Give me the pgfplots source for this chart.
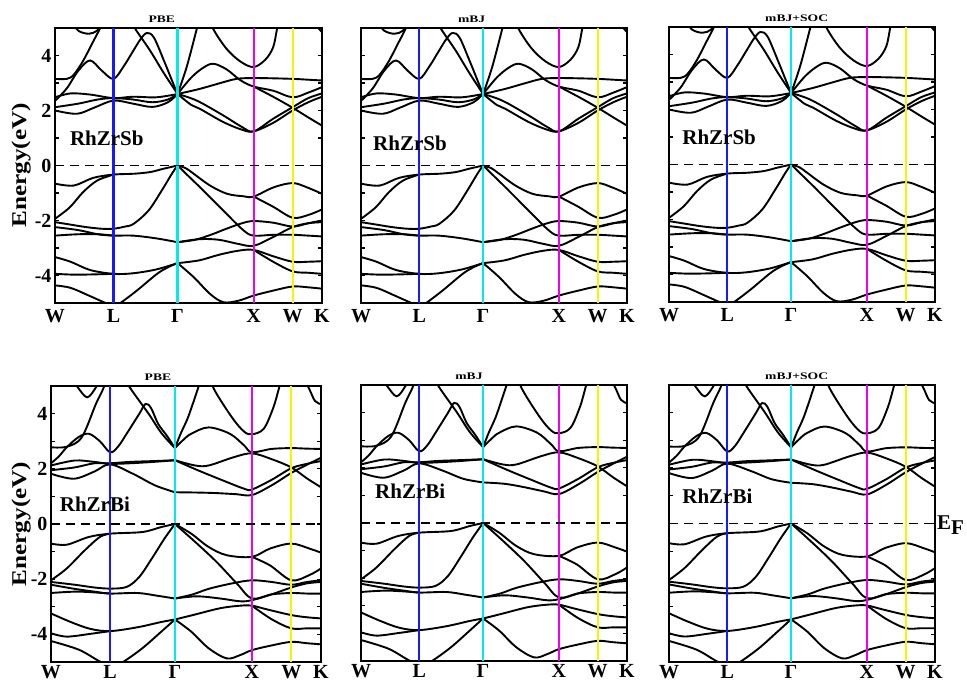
\documentclass[border=0pt]{standalone}
\usepackage{fontspec}
\setmainfont{Liberation Serif}
\usepackage{graphicx}
\usepackage{pgfplots}
\pgfplotsset{compat=1.18}
\definecolor{lblue}{RGB}{25,25,255}
\definecolor{gcyan}{RGB}{0,235,235}
\definecolor{xmag}{RGB}{240,0,240}
\definecolor{wyel}{RGB}{245,245,0}
\pgfplotsset{
  band/.style={black, line width=1.9pt, smooth, tension=0.55, mark=none},
  panel/.style={
    scale only axis, anchor=north west, clip mode=individual,
    xmin=0, xmax=3.427, ymin=-5, ymax=5,
    xtick={0,0.75,1.573,2.55,3.05,3.427},
    xticklabels={W,L,Γ,X,W,K},
    xtick style={draw=none},
    ytick={-4,-3,...,4}, yticklabels={},
    ytick pos=both, tick align=inside,
    major tick length=4pt,
    ytick style={black, line width=1.2pt},
    axis line style={black, line width=1.8pt},
    xticklabel style={font=\fontsize{20}{20}\selectfont\bfseries, yshift=-3pt},
    yticklabel style={font=\fontsize{20}{20}\selectfont\bfseries},
  },
  lowrow/.style={xticklabel style={yshift=3.5pt}},
  elabel/.style={
    ylabel={\scalebox{1.2}[1]{Energy(eV)}},
    every axis y label/.style={at={(axis description cs:#1,0.5)}, rotate=90, anchor=center, font=\fontsize{21}{21}\selectfont\bfseries},
    yticklabels={-4,,-2,,0,,2,,4},
  },
}
\newcommand{\ttl}[2]{\node[anchor=base, font=\fontsize{10}{10}\selectfont\bfseries] at ([yshift=5pt]axis description cs:#1,1) {\scalebox{1.36}[1]{#2}};}
\newcommand{\cmp}[3]{\node[anchor=west, inner sep=0pt, font=\fontsize{21}{21}\selectfont\bfseries] at (axis cs:#1,#2) {#3};}
\newcommand{\symlines}{
  \addplot[color=lblue, line width=2.2pt] coordinates {(0.75,-5) (0.75,5)};
  \addplot[color=gcyan, line width=2.2pt] coordinates {(1.573,-5) (1.573,5)};
  \addplot[color=xmag, line width=2.2pt] coordinates {(2.55,-5) (2.55,5)};
  \addplot[color=wyel, line width=2.2pt] coordinates {(3.05,-5) (3.05,5)};
  \addplot[color=black, line width=1.7pt, dash pattern=on 9pt off 6pt] coordinates {(0,0) (3.427,0)};
}
% ---------------- RhZrSb bands ----------------
\newcommand{\bandsSb}{
  % valence, W-L-Gamma
  \addplot[band] coordinates {(0,-0.66)(0.24,-0.73)(0.49,-0.45)(0.75,-0.33)(1.01,-0.3)(1.22,-0.24)(1.39,-0.12)(1.573,0)};
  \addplot[band] coordinates {(0,-1.94)(0.19,-1.52)(0.36,-0.97)(0.54,-0.55)(0.75,-0.33)};
  \addplot[band] coordinates {(0,-2.06)(0.2,-2.15)(0.4,-2.24)(0.6,-2.3)(0.75,-2.3)(0.9,-2.22)(1.01,-2.12)(1.2,-1.64)(1.37,-0.91)(1.5,-0.3)(1.573,0)};
  \addplot[band] coordinates {(0,-2.24)(0.3,-2.35)(0.55,-2.5)(0.75,-2.55)(1.0,-2.55)(1.3,-2.65)(1.573,-2.79)};
  \addplot[band] coordinates {(0,-2.55)(0.3,-2.5)(0.55,-2.5)(0.75,-2.55)};
  \addplot[band] coordinates {(0,-3.33)(0.2,-3.5)(0.45,-3.8)(0.75,-3.94)(1.0,-3.92)(1.3,-3.78)(1.573,-3.55)};
  \addplot[band] coordinates {(0,-3.94)(0.25,-3.97)(0.5,-3.96)(0.75,-3.94)};
  \addplot[band] coordinates {(0,-4.36)(0.2,-4.45)(0.45,-4.75)(0.65,-5.0)(0.8,-5.15)};
  \addplot[band] coordinates {(0.75,-5.15)(0.84,-5.0)(1.05,-4.55)(1.31,-3.94)(1.45,-3.7)(1.573,-3.55)};
  % valence, Gamma-X-W-K
  \addplot[band] coordinates {(1.573,0)(1.68,-0.1)(1.78,-0.3)(1.99,-0.73)(2.21,-1.03)(2.42,-1.12)(2.55,-1.13)(2.81,-0.79)(3.05,-0.64)(3.23,-0.79)(3.427,-1.03)};
  \addplot[band] coordinates {(2.55,-1.13)(2.8,-1.5)(3.05,-1.9)(3.25,-1.8)(3.427,-1.6)};
  \addplot[band] coordinates {(1.573,0)(1.7,-0.35)(1.86,-0.79)(2.16,-1.64)(2.42,-2.36)(2.55,-2.55)(2.8,-2.52)(3.05,-2.52)(3.25,-2.55)(3.427,-2.58)};
  \addplot[band] coordinates {(1.573,-2.79)(1.8,-2.7)(2.0,-2.52)(2.2,-2.3)(2.4,-2.1)(2.55,-2.02)(2.8,-2.08)(3.05,-2.22)(3.25,-2.1)(3.427,-2.0)};
  \addplot[band] coordinates {(1.573,-2.79)(1.85,-2.68)(2.1,-2.7)(2.35,-2.85)(2.55,-2.92)(2.8,-2.6)(3.05,-2.24)(3.25,-2.1)(3.427,-2.06)};
  \addplot[band] coordinates {(1.573,-3.55)(1.85,-3.45)(2.1,-3.25)(2.35,-3.1)(2.55,-3.07)(2.8,-3.3)(3.05,-3.5)(3.25,-3.5)(3.427,-3.48)};
  \addplot[band] coordinates {(2.55,-3.07)(2.8,-3.5)(3.05,-3.85)(3.25,-3.9)(3.427,-3.94)};
  \addplot[band] coordinates {(1.573,-3.55)(1.78,-4.06)(1.99,-4.67)(2.16,-4.97)(2.35,-4.92)(2.55,-4.73)(2.8,-4.55)(3.05,-4.4)(3.25,-4.43)(3.427,-4.48)};
  % conduction, W-L-Gamma
  \addplot[band] coordinates {(0,2.0)(0.28,1.88)(0.5,2.1)(0.75,2.36)(1.0,2.25)(1.25,2.13)(1.45,2.3)(1.573,2.6)};
  \addplot[band] coordinates {(0,2.12)(0.3,2.25)(0.55,2.4)(0.75,2.45)(1.0,2.4)(1.25,2.3)(1.45,2.4)(1.573,2.6)};
  \addplot[band] coordinates {(0,2.48)(0.2,2.62)(0.45,2.58)(0.75,2.45)(1.0,2.5)(1.3,2.48)(1.573,2.6)};
  \addplot[band] coordinates {(0,2.35)(0.15,2.8)(0.3,3.45)(0.45,3.82)(0.6,3.45)(0.75,3.15)(0.88,3.6)(1.0,4.15)(1.1,4.6)(1.18,4.82)(1.27,4.65)(1.4,3.8)(1.5,3.1)(1.573,2.6)};
  \addplot[band] coordinates {(0,3.15)(0.15,3.15)(0.24,3.3)(0.36,3.8)(0.47,4.4)(0.58,5.0)(0.65,5.5)};
  \addplot[band] coordinates {(0.95,5.4)(1.03,4.97)(1.22,4.18)(1.39,3.39)(1.573,2.6)};
  \addplot[band] coordinates {(0.22,5.2)(0.3,4.9)(0.43,4.79)(0.54,4.9)(0.6,5.2)};
  % conduction, Gamma-X-W-K
  \addplot[band] coordinates {(1.573,2.6)(1.75,2.2)(1.86,2.06)(2.16,1.58)(2.4,1.3)(2.55,1.24)(2.8,1.55)(3.05,2.0)(3.25,2.3)(3.427,2.5)};
  \addplot[band] coordinates {(1.573,2.6)(1.82,2.36)(2.16,1.82)(2.4,1.4)(2.55,1.24)(2.8,1.7)(3.05,2.12)(3.25,2.45)(3.427,2.62)};
  \addplot[band] coordinates {(1.573,2.6)(1.85,2.78)(2.1,2.98)(2.33,3.15)(2.55,3.18)(2.8,3.17)(3.05,3.15)(3.25,3.12)(3.427,3.09)};
  \addplot[band] coordinates {(1.573,2.6)(1.75,3.2)(1.9,3.55)(2.03,3.7)(2.2,3.5)(2.38,3.1)(2.55,2.87)(2.8,2.72)(3.05,2.48)(3.25,2.65)(3.427,2.85)};
  \addplot[band] coordinates {(1.573,2.6)(1.69,3.58)(1.82,4.97)(1.87,5.5)};
  \addplot[band] coordinates {(1.95,5.6)(2.03,4.97)(2.2,4.25)(2.38,3.78)(2.55,3.58)(2.7,3.85)(2.8,4.3)(2.85,4.97)(2.9,5.6)};
  \addplot[band] coordinates {(2.55,2.87)(2.8,2.5)(3.05,2.1)(3.25,1.75)(3.427,1.45)};
  \addplot[band] coordinates {(3.3,5.3)(3.38,5.0)(3.427,4.85)};
}
% ---------------- RhZrBi bands ----------------
\newcommand{\bandsBi}{
  \addplot[band] coordinates {(0,-0.71)(0.2,-0.75)(0.48,-0.47)(0.75,-0.35)(1.16,-0.29)(1.4,-0.11)(1.573,0)};
  \addplot[band] coordinates {(0,-2.04)(0.2,-1.61)(0.43,-0.95)(0.62,-0.47)(0.75,-0.35)};
  \addplot[band] coordinates {(0,-2.1)(0.3,-2.2)(0.55,-2.3)(0.75,-2.34)(0.96,-2.28)(1.12,-1.92)(1.28,-1.25)(1.44,-0.53)(1.573,0)};
  \addplot[band] coordinates {(0,-2.2)(0.3,-2.35)(0.55,-2.45)(0.75,-2.52)(1.1,-2.5)(1.35,-2.6)(1.573,-2.7)};
  \addplot[band] coordinates {(0,-2.5)(0.35,-2.45)(0.75,-2.52)};
  \addplot[band] coordinates {(0,-3.24)(0.25,-3.55)(0.5,-3.8)(0.75,-3.88)(1.1,-3.74)(1.4,-3.55)(1.573,-3.46)};
  \addplot[band] coordinates {(0,-3.96)(0.2,-4.08)(0.5,-3.98)(0.75,-3.88)};
  \addplot[band] coordinates {(0,-4.24)(0.35,-4.55)(0.6,-4.95)(0.75,-5.15)};
  \addplot[band] coordinates {(0.8,-5.15)(0.92,-4.99)(1.16,-4.5)(1.4,-3.9)(1.573,-3.46)};
  \addplot[band] coordinates {(1.573,0)(1.78,-0.35)(2.0,-0.83)(2.23,-1.13)(2.55,-1.19)(2.78,-0.89)(3.05,-0.71)(3.28,-0.89)(3.427,-1.04)};
  \addplot[band] coordinates {(2.55,-1.19)(2.78,-1.5)(3.05,-2.04)(3.28,-1.85)(3.427,-1.61)};
  \addplot[band] coordinates {(1.573,0)(1.83,-0.65)(2.1,-1.37)(2.36,-2.16)(2.55,-2.7)(2.8,-2.55)(3.05,-2.5)(3.25,-2.52)(3.427,-2.52)};
  \addplot[band] coordinates {(1.573,-2.7)(1.8,-2.55)(2.0,-2.35)(2.3,-2.15)(2.55,-2.04)(2.8,-2.1)(3.05,-2.2)(3.25,-2.1)(3.427,-2.04)};
  \addplot[band] coordinates {(1.573,-2.7)(1.85,-2.62)(2.15,-2.7)(2.4,-2.8)(2.55,-2.76)(2.8,-2.55)(3.05,-2.3)(3.25,-2.15)(3.427,-2.1)};
  \addplot[band] coordinates {(1.573,-3.46)(1.8,-3.3)(2.15,-3.05)(2.4,-2.96)(2.55,-2.96)(2.75,-3.1)(3.05,-3.3)(3.25,-3.38)(3.427,-3.42)};
  \addplot[band] coordinates {(2.55,-2.96)(2.8,-3.45)(3.05,-3.78)(3.25,-3.78)(3.427,-3.78)};
  \addplot[band] coordinates {(1.573,-3.46)(1.78,-3.9)(2.0,-4.5)(2.23,-4.87)(2.4,-4.75)(2.55,-4.57)(2.8,-4.4)(3.05,-4.27)(3.25,-4.32)(3.427,-4.36)};
  % conduction
  \addplot[band] coordinates {(0,1.95)(0.3,2.05)(0.55,2.2)(0.75,2.2)(1.0,2.25)(1.3,2.28)(1.573,2.31)};
  \addplot[band] coordinates {(0,2.12)(0.3,2.3)(0.55,2.25)(0.75,2.18)(1.0,2.2)(1.3,2.25)(1.573,2.31)};
  \addplot[band] coordinates {(0,2.2)(0.1,2.45)(0.2,2.78)(0.35,3.15)(0.48,3.27)(0.62,3.0)(0.75,2.6)(0.85,2.8)(0.96,3.27)(1.12,3.99)(1.2,4.35)(1.27,4.2)(1.36,3.63)(1.47,3.2)(1.573,2.75)};
  \addplot[band] coordinates {(0,2.78)(0.2,2.8)(0.39,3.14)(0.57,4.35)(0.67,4.95)(0.72,5.5)};
  \addplot[band] coordinates {(0.9,5.5)(1.0,4.95)(1.24,3.99)(1.4,3.3)(1.573,2.75)};
  \addplot[band] coordinates {(0.26,5.3)(0.34,4.95)(0.46,4.59)(0.57,4.95)(0.63,5.3)};
  \addplot[band] coordinates {(1.573,2.31)(1.87,1.94)(2.18,1.58)(2.45,1.28)(2.55,1.25)(2.8,1.6)(3.05,2.02)(3.25,2.18)(3.427,2.28)};
  \addplot[band] coordinates {(1.573,2.31)(1.83,2.12)(2.0,2.12)(2.32,2.42)(2.55,2.56)(2.8,2.35)(3.05,2.05)(3.25,1.65)(3.427,1.33)};
  \addplot[band] coordinates {(1.573,2.75)(1.68,3.05)(1.78,3.27)(2.0,3.5)(2.27,3.27)(2.45,2.85)(2.55,2.6)(2.8,2.72)(3.05,2.75)(3.25,2.73)(3.427,2.72)};
  \addplot[band] coordinates {(1.573,2.75)(1.65,3.3)(1.74,3.87)(1.87,4.95)(1.93,5.5)};
  \addplot[band] coordinates {(2.0,5.5)(2.07,4.88)(2.3,3.85)(2.45,3.35)(2.55,3.25)(2.7,3.45)(2.82,4.2)(2.89,4.88)(2.95,5.5)};
  \addplot[band] coordinates {(3.2,5.3)(3.28,4.88)(3.35,4.46)(3.427,4.34)};
}
% lowest conduction band of RhZrBi: PBE and mBJ versions
\newcommand{\lowBiPBE}{
  \addplot[band] coordinates {(0,1.82)(0.29,1.64)(0.55,1.9)(0.75,2.16)(1.04,1.82)(1.32,1.4)(1.573,1.15)};
  \addplot[band] coordinates {(1.573,1.15)(1.85,1.14)(2.1,1.12)(2.35,1.08)(2.55,1.05)(2.8,1.4)(3.05,1.85)(3.25,2.15)(3.427,2.4)};
}
\newcommand{\lowBiMBJ}{
  \addplot[band] coordinates {(0,1.82)(0.29,1.64)(0.55,1.9)(0.75,2.16)(1.05,1.9)(1.32,1.6)(1.573,1.47)};
  \addplot[band] coordinates {(1.573,1.47)(1.85,1.42)(2.1,1.3)(2.35,1.15)(2.55,1.05)(2.8,1.4)(3.05,1.85)(3.25,2.15)(3.427,2.4)};
}
\begin{document}
\begin{tikzpicture}
\path[use as bounding box] (0pt,0pt) rectangle (967pt,-684pt);
% ---- row 1: RhZrSb ----
\begin{axis}[panel, elabel=-0.127, at={(55pt,-28pt)}, width=267pt, height=275pt]
  \bandsSb \symlines
  \ttl{0.40}{PBE}
  \cmp{0.19}{1.0}{RhZrSb}
\end{axis}
\begin{axis}[panel, at={(361pt,-28pt)}, width=266pt, height=275pt]
  \bandsSb \symlines
  \ttl{0.416}{mBJ}
  \cmp{0.155}{0.8}{RhZrSb}
\end{axis}
\begin{axis}[panel, at={(669pt,-27pt)}, width=266pt, height=275pt]
  \bandsSb \symlines
  \ttl{0.48}{mBJ+SOC}
  \cmp{0.17}{1.0}{RhZrSb}
\end{axis}
% ---- row 2: RhZrBi ----
\begin{axis}[panel, lowrow, elabel=-0.111, at={(51pt,-386pt)}, width=270pt, height=276pt]
  \bandsBi \lowBiPBE \symlines
  \ttl{0.396}{PBE}
  \cmp{0.11}{0.72}{RhZrBi}
\end{axis}
\begin{axis}[panel, lowrow, at={(361pt,-385pt)}, width=266pt, height=276pt]
  \bandsBi \lowBiMBJ \symlines
  \ttl{0.406}{mBJ}
  \cmp{0.18}{1.15}{RhZrBi}
\end{axis}
\begin{axis}[panel, lowrow, at={(669pt,-385pt)}, width=266pt, height=277pt]
  \bandsBi \lowBiMBJ \symlines
  \ttl{0.48}{mBJ+SOC}
  \cmp{0.17}{1.0}{RhZrBi}
  \node[anchor=west, inner sep=0pt, font=\fontsize{21}{21}\selectfont\bfseries] at ([xshift=2pt,yshift=-2pt]axis description cs:1,0.5) {E\raisebox{-5pt}{F}};
\end{axis}
\end{tikzpicture}
\end{document}
